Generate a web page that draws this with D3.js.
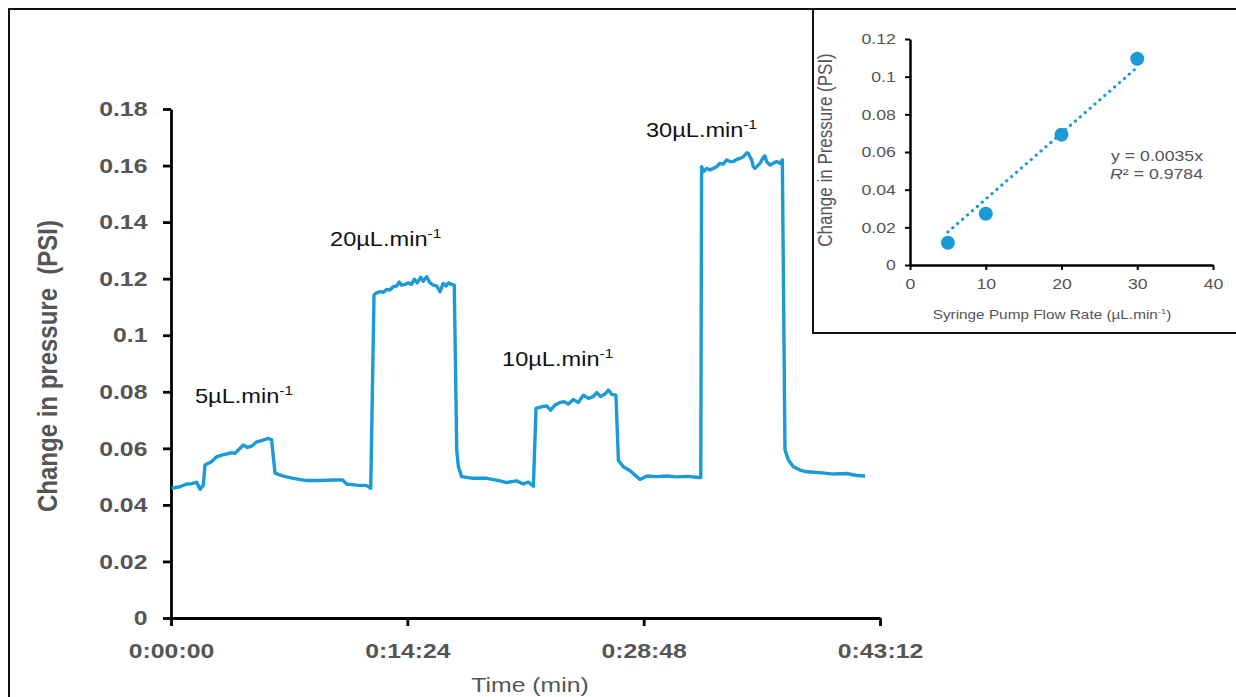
<!DOCTYPE html>
<html>
<head>
<meta charset="utf-8">
<script src="https://cdnjs.cloudflare.com/ajax/libs/d3/7.8.5/d3.min.js"></script>
<style>
    body { margin: 0; background: #fff; }
    text { font-family: "Liberation Sans", Arial, sans-serif; }
</style>
</head>
<body>
<div id="chart"></div>
<script>
// main trace: time (min) and change in pressure (PSI)
let timeMin = [0.04, 0.55, 0.95, 1.26, 1.56, 1.77, 1.97, 2.07, 2.48, 2.78, 3.09, 3.39, 3.70, 3.90, 4.10,
    4.41, 4.65, 4.92, 5.22, 5.52, 5.93, 6.13,
    6.34, 6.84, 7.45, 8.27, 9.08, 9.89, 10.46, 10.70, 11.31, 11.92, 12.17,
    12.37, 12.53, 12.73, 12.94, 13.14, 13.34, 13.55, 13.75, 13.91, 14.05, 14.26, 14.46, 14.66, 14.83,
    15.01, 15.21, 15.37, 15.58, 15.78, 15.98, 16.19, 16.39, 16.59, 16.76, 16.90, 17.10, 17.26,
    17.41, 17.51, 17.71, 18.42, 19.24, 20.05, 20.45, 21.06, 21.47, 21.77, 22.08,
    22.24, 22.58, 22.89, 23.13, 23.40, 23.70, 23.95, 24.21, 24.51, 24.82, 25.12, 25.43, 25.73,
    25.94, 26.18, 26.44, 26.65, 26.85, 27.11,
    27.26, 27.56, 27.97, 28.37, 28.58, 29.00, 29.60, 30.20, 30.80, 31.50, 32.13, 32.28,
    32.33, 32.44, 32.64, 32.84, 33.05, 33.25, 33.45, 33.65, 33.86, 34.06, 34.26, 34.47, 34.67,
    34.87, 35.08, 35.18, 35.28, 35.38, 35.48, 35.58, 35.69, 35.89, 36.09, 36.19, 36.29, 36.50,
    36.70, 36.90, 37.11, 37.25,
    37.41, 37.62, 37.92, 38.33, 38.73, 39.54, 40.36, 41.17, 41.78, 42.29];
let pressure = [0.0459, 0.0464, 0.0474, 0.0475, 0.0480, 0.0455, 0.0470, 0.0541, 0.0553, 0.0570, 0.0576, 0.0580, 0.0585, 0.0582, 0.0594,
    0.0612, 0.0603, 0.0608, 0.0623, 0.0627, 0.0635, 0.0630,
    0.0512, 0.0502, 0.0494, 0.0486, 0.0486, 0.0488, 0.0488, 0.0474, 0.0470, 0.0468, 0.0459,
    0.1142, 0.1150, 0.1154, 0.1152, 0.1162, 0.1160, 0.1172, 0.1174, 0.1188, 0.1177, 0.1180, 0.1185, 0.1180, 0.1198,
    0.1185, 0.1205, 0.1191, 0.1207, 0.1185, 0.1177, 0.1174, 0.1154, 0.1183, 0.1174, 0.1185, 0.1180, 0.1177,
    0.0594, 0.0535, 0.0500, 0.0494, 0.0494, 0.0485, 0.0479, 0.0485, 0.0474, 0.0481, 0.0466,
    0.0741, 0.0747, 0.0750, 0.0735, 0.0753, 0.0762, 0.0765, 0.0757, 0.0773, 0.0762, 0.0788, 0.0777, 0.0783,
    0.0797, 0.0783, 0.0792, 0.0806, 0.0791, 0.0788,
    0.0558, 0.0535, 0.0521, 0.0500, 0.0490, 0.0502, 0.0500, 0.0502, 0.0499, 0.0501, 0.0497, 0.0497,
    0.1596, 0.1578, 0.1590, 0.1584, 0.1590, 0.1596, 0.1608, 0.1605, 0.1620, 0.1614, 0.1614, 0.1622, 0.1625,
    0.1631, 0.1645, 0.1643, 0.1631, 0.1620, 0.1596, 0.1590, 0.1596, 0.1608, 0.1629, 0.1634, 0.1614, 0.1602,
    0.1608, 0.1614, 0.1608, 0.1620,
    0.0594, 0.0559, 0.0535, 0.0523, 0.0517, 0.0514, 0.0509, 0.0511, 0.0504, 0.0502];

// flow rate labels over each step
let flowNames = ["5", "20", "10", "30"];
let flowLabelTime = [1.46, 9.69, 20.17, 28.94];
let flowLabelValue = [0.0760, 0.1315, 0.0891, 0.1701];

let timeTicks = [0, 14.4, 28.8, 43.2];
let pressureTicks = [0, 0.02, 0.04, 0.06, 0.08, 0.1, 0.12, 0.14, 0.16, 0.18];

// inset: calibration points
let flowRate = [5, 10, 20, 30];
let flowDelta = [0.0118, 0.0272, 0.0692, 0.1095];
let fitSlope = 0.0035;
let fitText = ["y = 0.0035x", "0.9784"];
let insetXTicks = [0, 10, 20, 30, 40];
let insetYTicks = [0, 0.02, 0.04, 0.06, 0.08, 0.1, 0.12];

let svgWidth = 1236;
let svgHeight = 697;
let blue = "#1b9ad8";
let grey = "#555";
let stretch = "scale(1.18,1)";   // the source picture is a bit wide

let svg = d3.select("#chart")
    .append("svg")
    .attr("width", svgWidth)
    .attr("height", svgHeight);

// outer frame
svg.append("rect")
    .attr("x", 9).attr("y", 9)
    .attr("width", 1240).attr("height", 700)
    .attr("fill", "none")
    .attr("stroke", "#111")
    .attr("stroke-width", 2);

// Step 1: main scales
let xScale = d3.scaleLinear().domain([0, 43.2]).range([171, 880]);
let yScale = d3.scaleLinear().domain([0, 0.18]).range([618, 109]);

function fmtTime(m) {
    let s = Math.round(m * 60);
    let h = Math.floor(s / 3600);
    let mm = Math.floor((s % 3600) / 60);
    let ss = s % 60;
    return h + ":" + String(mm).padStart(2, "0") + ":" + String(ss).padStart(2, "0");
}

// Step 2: main axes
let leftAxis = d3.axisLeft(yScale)
    .tickValues(pressureTicks)
    .tickFormat(d => d3.format(".2~f")(d))
    .tickSize(8).tickSizeOuter(0).tickPadding(12);
let bottomAxis = d3.axisBottom(xScale)
    .tickValues(timeTicks)
    .tickFormat(fmtTime)
    .tickSize(8).tickSizeOuter(0).tickPadding(17);

let yAxisG = svg.append("g")
    .attr("transform", `translate(${xScale(0)},0)`)
    .call(leftAxis);
let xAxisG = svg.append("g")
    .attr("transform", `translate(0,${yScale(0)})`)
    .call(bottomAxis);

[yAxisG, xAxisG].forEach(g => {
    g.select(".domain").attr("stroke", "#000").attr("stroke-width", 2.8);
    g.selectAll(".tick line").attr("stroke", "#000").attr("stroke-width", 2.8);
    g.selectAll(".tick text")
        .attr("transform", stretch)
        .attr("fill", grey)
        .style("font-size", "21px")
        .style("font-weight", "bold");
});

// Step 3: the trace
let trace = timeMin.map((t, i) => [t, pressure[i]]);
let line = d3.line()
    .x(d => xScale(d[0]))
    .y(d => yScale(d[1]));

svg.append("path")
    .datum(trace)
    .attr("d", line)
    .attr("fill", "none")
    .attr("stroke", blue)
    .attr("stroke-width", 3.4)
    .attr("stroke-linejoin", "round");

// Step 4: flow labels
flowNames.forEach((f, i) => {
    let t = svg.append("text")
        .attr("transform", `translate(${xScale(flowLabelTime[i])},${yScale(flowLabelValue[i])}) ${stretch}`)
        .attr("fill", "#111")
        .style("font-size", "20px");
    t.append("tspan").text(f + "µL.min");
    t.append("tspan").attr("dy", -8).style("font-size", "13px").text("-1");
});

// axis titles
svg.append("text")
    .attr("transform", `translate(57,366) rotate(-90) scale(1,1.15)`)
    .attr("text-anchor", "middle")
    .attr("fill", grey)
    .style("font-size", "24px")
    .style("font-weight", "bold")
    .style("white-space", "pre")
    .text("Change in pressure  (PSI)");

svg.append("text")
    .attr("transform", `translate(530,692) ${stretch}`)
    .attr("text-anchor", "middle")
    .attr("fill", grey)
    .style("font-size", "21px")
    .text("Time (min)");

// Step 5: inset box
let inset = svg.append("g");
inset.append("rect")
    .attr("x", 813).attr("y", 9)
    .attr("width", 440).attr("height", 324)
    .attr("fill", "#fff")
    .attr("stroke", "#111")
    .attr("stroke-width", 2);

let xInset = d3.scaleLinear().domain([0, 40]).range([910, 1213]);
let yInset = d3.scaleLinear().domain([0, 0.12]).range([265, 39]);

let insetLeft = inset.append("g")
    .attr("transform", `translate(${xInset(0)},0)`)
    .call(d3.axisLeft(yInset).tickValues(insetYTicks)
        .tickFormat(d => d3.format(".2~f")(d))
        .tickSize(5).tickSizeOuter(0).tickPadding(7));
let insetBottom = inset.append("g")
    .attr("transform", `translate(0,${yInset(0)})`)
    .call(d3.axisBottom(xInset).tickValues(insetXTicks)
        .tickSize(5).tickSizeOuter(0).tickPadding(8));

[insetLeft, insetBottom].forEach(g => {
    g.select(".domain").attr("stroke", "#000").attr("stroke-width", 2.5);
    g.selectAll(".tick line").attr("stroke", "#000").attr("stroke-width", 2);
    g.selectAll(".tick text")
        .attr("transform", stretch)
        .attr("fill", grey)
        .style("font-size", "15px");
});

// dotted linear fit through origin
inset.append("line")
    .attr("x1", xInset(flowRate[0])).attr("y1", yInset(fitSlope * flowRate[0]))
    .attr("x2", xInset(flowRate[3])).attr("y2", yInset(fitSlope * flowRate[3]))
    .attr("stroke", blue)
    .attr("stroke-width", 3.2)
    .attr("stroke-linecap", "round")
    .attr("stroke-dasharray", "0.1 6.4");

inset.selectAll("circle")
    .data(flowRate)
    .enter()
    .append("circle")
    .attr("cx", d => xInset(d))
    .attr("cy", (d, i) => yInset(flowDelta[i]))
    .attr("r", 7)
    .attr("fill", blue);

// equation
inset.append("text")
    .attr("transform", `translate(1203,161) ${stretch}`)
    .attr("text-anchor", "end")
    .attr("fill", grey)
    .style("font-size", "15px")
    .text(fitText[0]);
let r2 = inset.append("text")
    .attr("transform", `translate(1203,179) ${stretch}`)
    .attr("text-anchor", "end")
    .attr("fill", grey)
    .style("font-size", "15px");
r2.append("tspan").style("font-style", "italic").text("R");
r2.append("tspan").text("² = " + fitText[1]);

// inset titles
let xt = inset.append("text")
    .attr("transform", `translate(1052,319) ${stretch}`)
    .attr("text-anchor", "middle")
    .attr("fill", grey)
    .style("font-size", "13px");
xt.append("tspan").text("Syringe Pump Flow Rate (µL.min");
xt.append("tspan").attr("dy", -5).style("font-size", "8px").text("-1");
xt.append("tspan").attr("dy", 5).text(")");

inset.append("text")
    .attr("transform", `translate(832,150) rotate(-90) scale(1,1.18)`)
    .attr("text-anchor", "middle")
    .attr("fill", grey)
    .style("font-size", "17px")
    .text("Change in Pressure (PSI)");
</script>
</body>
</html>
